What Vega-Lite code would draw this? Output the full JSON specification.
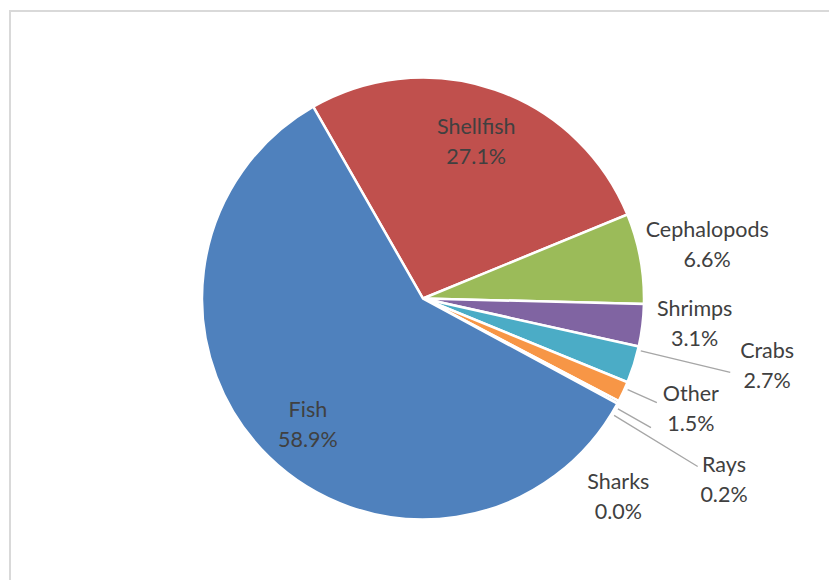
{
  "$schema": "https://vega.github.io/schema/vega-lite/v6.json",
  "width": 819,
  "height": 569,
  "autosize": {"type": "none"},
  "padding": {"left": 10, "top": 11, "right": 0, "bottom": 0},
  "background": "white",
  "config": {"view": {"stroke": null}},
  "datasets": {
    "catch": [
      {"category": "Shellfish", "value": 27.1, "rank": 1, "label": "Shellfish\n27.1%"},
      {"category": "Cephalopods", "value": 6.6, "rank": 2, "label": "Cephalopods\n6.6%"},
      {"category": "Shrimps", "value": 3.1, "rank": 3, "label": "Shrimps\n3.1%"},
      {"category": "Crabs", "value": 2.7, "rank": 4, "label": "Crabs\n2.7%"},
      {"category": "Other", "value": 1.5, "rank": 5, "label": "Other\n1.5%"},
      {"category": "Rays", "value": 0.2, "rank": 6, "label": "Rays\n0.2%"},
      {"category": "Sharks", "value": 0.0, "rank": 7, "label": "Sharks\n0.0%"},
      {"category": "Fish", "value": 58.9, "rank": 8, "label": "Fish\n58.9%"}
    ],
    "frame": [{"frame": 1}]
  },
  "layer": [
    {
      "data": {"name": "frame"},
      "mark": {"type": "rect", "fill": "transparent", "stroke": "#d9d9d9", "strokeWidth": 2, "x": 0, "y": 0, "x2": {"expr": "width+20"}, "y2": {"expr": "height+20"}}
    },
    {
      "data": {"name": "catch"},
      "encoding": {
        "theta": {"field": "value", "type": "quantitative", "stack": true, "scale": {"range": [-0.52, 5.7632]}},
        "order": {"field": "rank", "type": "quantitative"}
      },
      "layer": [
        {
          "mark": {"type": "arc", "radius": 221, "stroke": "white", "strokeWidth": 2.5, "x": {"expr": "width/2+3.5"}, "y": {"expr": "height/2+3"}},
          "encoding": {
            "color": {
              "field": "category",
              "type": "nominal",
              "scale": {
                "domain": ["Fish", "Shellfish", "Cephalopods", "Shrimps", "Crabs", "Other", "Rays", "Sharks"],
                "range": ["#4F81BD", "#C0504D", "#9BBB59", "#8064A2", "#4BACC6", "#F79646", "#2C4D75", "#772C2A"]
              },
              "legend": null
            }
          }
        },
        {
          "mark": {
            "type": "arc",
            "fill": "transparent",
            "stroke": "#a6a6a6",
            "strokeWidth": 1.3,
            "padAngle": 1.5,
            "x": {"expr": "width/2+3.5"},
            "y": {"expr": "height/2+3"},
            "radius": {"expr": "datum.category==='Crabs' ? 316 : datum.category==='Other' ? 256 : datum.category==='Rays' ? 322 : datum.category==='Sharks' ? 262 : 224"},
            "radius2": 224,
            "thetaOffset": {"expr": "datum.category==='Crabs' ? -0.068 : datum.category==='Other' ? -0.017 : datum.category==='Rays' ? 0.06 : datum.category==='Sharks' ? 0.02 : 0"}
          },
          "encoding": {
            "strokeOpacity": {
              "condition": {"test": "indexof(['Crabs','Other','Rays','Sharks'], datum.category) >= 0", "value": 1},
              "value": 0
            }
          }
        },
        {
          "mark": {
            "type": "text",
            "font": "Lato",
            "fontSize": 21.5,
            "lineBreak": "\n",
            "lineHeight": 30,
            "dy": -15,
            "color": "#404040",
            "align": "center",
            "baseline": "middle",
            "x": {"expr": "width/2+3.5"},
            "y": {"expr": "height/2+3"},
            "radius": {"expr": "datum.category==='Fish' ? 172 : datum.category==='Shellfish' ? 164 : datum.category==='Cephalopods' ? 289 : datum.category==='Shrimps' ? 273 : datum.category==='Crabs' ? 351 : datum.category==='Other' ? 290 : datum.category==='Rays' ? 352 : datum.category==='Sharks' ? 279 : 200"},
            "thetaOffset": {"expr": "datum.category==='Crabs' ? -0.106 : datum.category==='Other' ? -0.042 : datum.category==='Rays' ? 0.056 : datum.category==='Sharks' ? 0.3 : datum.category==='Shrimps' ? -0.023 : datum.category==='Fish' ? -0.04 : 0"}
          },
          "encoding": {
            "text": {"field": "label", "type": "nominal"}
          }
        }
      ]
    }
  ]
}
